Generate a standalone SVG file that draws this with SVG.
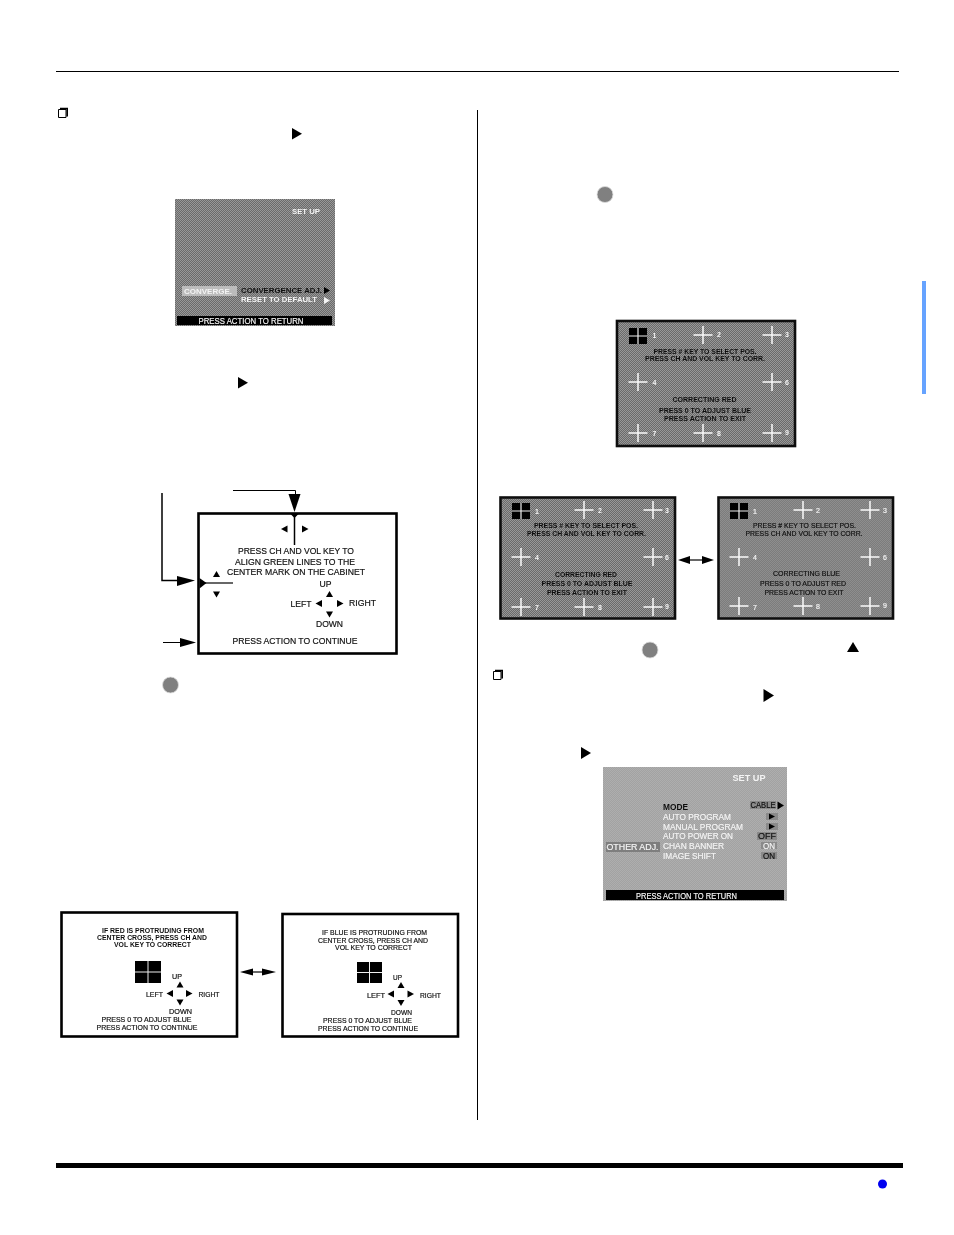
<svg xmlns="http://www.w3.org/2000/svg" xmlns:xlink="http://www.w3.org/1999/xlink" width="954" height="1235" viewBox="0 0 954 1235">
<defs>
<style>
text{font-family:"Liberation Sans",Arial,sans-serif;font-size:8.5px;fill:#111;stroke:#111;stroke-width:.18;text-anchor:middle}
.l{text-anchor:start}
.w{fill:#f4f4f4;stroke:#f4f4f4}
.b{font-weight:bold;stroke-width:0}
.s7{font-size:7px}
.frame{fill:#fff;stroke:#000;stroke-width:2.6}
.sframe{stroke:#111;stroke-width:2.6}
.rule{stroke:#000;fill:none}
.cr{stroke:#fafafa;stroke-width:1.5;fill:none}
.wrapper{filter:url(#soft)}
</style>
<filter id="soft" x="-5%" y="-5%" width="110%" height="110%"><feGaussianBlur stdDeviation="0.3"/></filter>
<pattern id="dA" width="2" height="2" patternUnits="userSpaceOnUse"><rect width="2" height="2" fill="#6a6a6a"/><rect width="1" height="1" fill="#989898"/><rect x="1" y="1" width="1" height="1" fill="#989898"/></pattern>
<pattern id="dB" width="2" height="2" patternUnits="userSpaceOnUse"><rect width="2" height="2" fill="#7c7c7c"/><rect width="1" height="1" fill="#8e8e8e"/><rect x="1" y="1" width="1" height="1" fill="#8e8e8e"/></pattern>
<pattern id="dC" width="2" height="2" patternUnits="userSpaceOnUse"><rect width="2" height="2" fill="#a2a2a2"/><rect width="1" height="1" fill="#aeaeae"/><rect x="1" y="1" width="1" height="1" fill="#aeaeae"/></pattern>
<path id="cross" class="cr" d="M-9.500 0H9.500M0-9V9"/>
<g id="block"><rect x="-9" y="-8" width="18" height="16" fill="#000"/><path d="M-9 0H9M0-8V8" stroke="#eee" stroke-width="1.200"/></g>
<path id="up" d="M-3.500 3H3.500L0-3Z"/>
<path id="dn" d="M-3.500-3H3.500L0 3Z"/>
<path id="lf" d="M3-3.500V3.500L-3.500 0Z"/>
<path id="rt" d="M-3-3.500V3.500L3.500 0Z"/>
</defs>
<rect width="954" height="1235" fill="#fff"/>

<g id="page-rules">
<path class="rule" d="M56 71.500H899"/>
<path class="rule" d="M477.500 110V1120"/>
<rect x="56" y="1163" width="847" height="5" fill="#000"/>
<rect x="922" y="281" width="4" height="113" fill="#66a3ff"/>
<circle cx="882.500" cy="1184" r="4.500" fill="#0000f0"/>
</g>

<g id="glyphs">
<path d="M58.500 109.500H66V117.500H58.500Z" fill="#fff" stroke="#000"/><path d="M60 108.500H67.200V116.500" fill="none" stroke="#000" stroke-width="1.600"/>
<path d="M493.500 671.500H501V679.500H493.500Z" fill="#fff" stroke="#000"/><path d="M495 670.500H502.200V678.500" fill="none" stroke="#000" stroke-width="1.600"/>
<path d="M292 128V139.500L302 133.700Z"/>
<path d="M238 377V388.500L248 382.700Z"/>
<path d="M763.500 689V702L774 695.500Z"/>
<path d="M581 747V759L591 753Z"/>
<path d="M847 652H859L853 642Z"/>
<circle cx="605" cy="194.500" r="8" fill="#808080" stroke="#ddd" stroke-width=".8"/>
<circle cx="170.500" cy="685" r="8" fill="#808080" stroke="#ddd" stroke-width=".8"/>
<circle cx="650" cy="650" r="8" fill="#808080" stroke="#ddd" stroke-width=".8"/>
</g>

<g id="screen-converge" class="wrapper">
<rect x="175" y="199" width="160" height="127" fill="url(#dA)"/>
<rect x="182" y="286" width="55" height="10" fill="#bcbcbc"/>
<rect x="177" y="316" width="155" height="9" fill="#000"/>
<text class="w b" x="306" y="213.500" textLength="28" lengthAdjust="spacingAndGlyphs" style="font-size:8px">SET UP</text>
<text class="w b" x="208" y="293.500" textLength="48" lengthAdjust="spacingAndGlyphs" style="font-size:8px">CONVERGE.</text>
<text class="b l" x="241" y="293" textLength="81" lengthAdjust="spacingAndGlyphs" style="font-size:8px">CONVERGENCE ADJ.</text>
<text class="w b l" x="241" y="302" textLength="76" lengthAdjust="spacingAndGlyphs" style="font-size:8px">RESET TO DEFAULT</text>
<path d="M324 297V304L330 300.500Z" fill="#f4f4f4"/>
<path d="M324 287V294L330 290.500Z"/>
<text class="w" x="251" y="323.500" textLength="105" lengthAdjust="spacingAndGlyphs">PRESS ACTION TO RETURN</text>
</g>

<g id="callout-center" class="wrapper">
<rect class="frame" x="198.500" y="513.500" width="198" height="140"/>
<text x="296" y="554" textLength="116" lengthAdjust="spacingAndGlyphs">PRESS CH AND VOL KEY TO</text>
<text x="295" y="565" textLength="120" lengthAdjust="spacingAndGlyphs">ALIGN GREEN LINES TO THE</text>
<text x="296" y="574.500" textLength="138" lengthAdjust="spacingAndGlyphs">CENTER MARK ON THE CABINET</text>
<text x="325.500" y="587" textLength="12" lengthAdjust="spacingAndGlyphs">UP</text>
<text x="301" y="607" textLength="21" lengthAdjust="spacingAndGlyphs">LEFT</text>
<text x="362.500" y="606" textLength="27" lengthAdjust="spacingAndGlyphs">RIGHT</text>
<text x="329.500" y="626.500" textLength="27" lengthAdjust="spacingAndGlyphs">DOWN</text>
<text x="295" y="644" textLength="125" lengthAdjust="spacingAndGlyphs">PRESS ACTION TO CONTINUE</text>
<use xlink:href="#lf" href="#lf" x="284.500" y="529"/>
<use xlink:href="#rt" href="#rt" x="305" y="529"/>
<use xlink:href="#up" href="#up" x="216.500" y="574"/>
<use xlink:href="#dn" href="#dn" x="216.500" y="594.500"/>
<use xlink:href="#up" href="#up" x="329.500" y="594"/>
<use xlink:href="#lf" href="#lf" x="319" y="603.500"/>
<use xlink:href="#rt" href="#rt" x="340" y="603.500"/>
<use xlink:href="#dn" href="#dn" x="329.500" y="614.500"/>
</g>

<g id="connectors">
<path class="rule" d="M233 490.500H295.500V496"/>
<path d="M288.500 494H300.500L294.500 512Z"/>
<path d="M290 513.500H299L294.500 518Z"/>
<path class="rule" d="M294.500 516V545" style="stroke-width:1.500"/>
<path class="rule" d="M162 493V580.500H178" style="stroke-width:1.500"/>
<path d="M177 576V586L195 580.500Z"/>
<path d="M199.500 578V588.500L206.500 583Z"/>
<path class="rule" d="M205 583H233" style="stroke-width:1.200"/>
<path class="rule" d="M163 642.500H181"/>
<path d="M180 638V647L196 642.500Z"/>
<path class="rule" d="M252 972H262" style="stroke-width:1.200"/>
<path d="M240 972L253 968.500V975.500Z"/>
<path d="M276 972L262 968.500V975.500Z"/>
<path class="rule" d="M689 560H703" style="stroke-width:1.200"/>
<path d="M678 560L690 556V564Z"/>
<path d="M714 560L702 556V564Z"/>
</g>

<g id="callout-red" class="wrapper">
<rect class="frame" x="61.500" y="912.500" width="175.500" height="124"/>
<text class="b s7" x="153" y="933" textLength="102" lengthAdjust="spacingAndGlyphs">IF RED IS PROTRUDING FROM</text>
<text class="b s7" x="152" y="940.300" textLength="110" lengthAdjust="spacingAndGlyphs">CENTER CROSS, PRESS CH AND</text>
<text class="b s7" x="152.500" y="947.300" textLength="77" lengthAdjust="spacingAndGlyphs">VOL KEY TO CORRECT</text>
<rect x="135" y="961" width="26" height="22" fill="#000"/><path d="M135 972H161M148 961V983" stroke="#eee" stroke-width="1"/>
<text class="s7" x="177" y="978.500" textLength="10" lengthAdjust="spacingAndGlyphs">UP</text>
<text class="s7" x="154.500" y="997" textLength="17" lengthAdjust="spacingAndGlyphs">LEFT</text>
<text class="s7" x="209" y="997" textLength="21" lengthAdjust="spacingAndGlyphs">RIGHT</text>
<text class="s7" x="180.500" y="1014" textLength="23" lengthAdjust="spacingAndGlyphs">DOWN</text>
<text class="s7" x="146.500" y="1021.500" textLength="90" lengthAdjust="spacingAndGlyphs">PRESS 0 TO ADJUST BLUE</text>
<text class="s7" x="147" y="1030" textLength="101" lengthAdjust="spacingAndGlyphs">PRESS ACTION TO CONTINUE</text>
<use xlink:href="#up" href="#up" x="180" y="984.500"/>
<use xlink:href="#lf" href="#lf" x="170" y="993.500"/>
<use xlink:href="#rt" href="#rt" x="189" y="993.500"/>
<use xlink:href="#dn" href="#dn" x="180" y="1002.500"/>
</g>

<g id="callout-blue" class="wrapper">
<rect class="frame" x="282.500" y="914" width="175.500" height="122.500"/>
<text class="s7" x="374.500" y="935" textLength="105" lengthAdjust="spacingAndGlyphs">IF BLUE IS PROTRUDING FROM</text>
<text class="s7" x="373" y="942.500" textLength="110" lengthAdjust="spacingAndGlyphs">CENTER CROSS, PRESS CH AND</text>
<text class="s7" x="373.500" y="950" textLength="77" lengthAdjust="spacingAndGlyphs">VOL KEY TO CORRECT</text>
<rect x="357" y="962" width="25" height="21" fill="#000"/><path d="M357 972.500H382M369.500 962V983" stroke="#eee" stroke-width="1"/>
<text class="s7" x="397.500" y="979.500" textLength="9" lengthAdjust="spacingAndGlyphs">UP</text>
<text class="s7" x="376" y="998" textLength="18" lengthAdjust="spacingAndGlyphs">LEFT</text>
<text class="s7" x="430.500" y="998" textLength="21" lengthAdjust="spacingAndGlyphs">RIGHT</text>
<text class="s7" x="401.500" y="1015" textLength="21" lengthAdjust="spacingAndGlyphs">DOWN</text>
<text class="s7" x="367.500" y="1023" textLength="89" lengthAdjust="spacingAndGlyphs">PRESS 0 TO ADJUST BLUE</text>
<text class="s7" x="368" y="1031" textLength="100" lengthAdjust="spacingAndGlyphs">PRESS ACTION TO CONTINUE</text>
<use xlink:href="#up" href="#up" x="401" y="985"/>
<use xlink:href="#lf" href="#lf" x="391" y="994"/>
<use xlink:href="#rt" href="#rt" x="410.500" y="994"/>
<use xlink:href="#dn" href="#dn" x="401" y="1003"/>
</g>

<g id="screen-red-top" class="wrapper">
<rect class="sframe" x="617" y="321" width="178" height="125" fill="url(#dA)"/>
<use xlink:href="#block" href="#block" x="638" y="336"/>
<use xlink:href="#cross" href="#cross" x="703" y="335"/>
<use xlink:href="#cross" href="#cross" x="772" y="335"/>
<use xlink:href="#cross" href="#cross" x="638" y="382"/>
<use xlink:href="#cross" href="#cross" x="772" y="382"/>
<use xlink:href="#cross" href="#cross" x="638" y="433"/>
<use xlink:href="#cross" href="#cross" x="703" y="433"/>
<use xlink:href="#cross" href="#cross" x="772" y="433"/>
<text class="w b s7" x="654.500" y="338">1</text>
<text class="w b s7" x="719" y="337">2</text>
<text class="w b s7" x="787" y="337">3</text>
<text class="w b s7" x="654.500" y="385">4</text>
<text class="w b s7" x="787" y="385">6</text>
<text class="w b s7" x="654.500" y="436">7</text>
<text class="w b s7" x="719" y="436">8</text>
<text class="w b s7" x="787" y="435">9</text>
<text class="b s7" x="705" y="353.500" textLength="103" lengthAdjust="spacingAndGlyphs">PRESS # KEY TO SELECT POS.</text>
<text class="b s7" x="705" y="361" textLength="120" lengthAdjust="spacingAndGlyphs">PRESS CH AND VOL KEY TO CORR.</text>
<text class="b s7" x="704.500" y="402" textLength="64" lengthAdjust="spacingAndGlyphs">CORRECTING RED</text>
<text class="b s7" x="705" y="412.500" textLength="92" lengthAdjust="spacingAndGlyphs">PRESS 0 TO ADJUST BLUE</text>
<text class="b s7" x="705" y="421" textLength="82" lengthAdjust="spacingAndGlyphs">PRESS ACTION TO EXIT</text>
</g>

<g id="screen-red" class="wrapper">
<rect class="sframe" x="500.500" y="497.500" width="174.500" height="121" fill="url(#dA)"/>
<use xlink:href="#block" href="#block" x="521" y="511"/>
<use xlink:href="#cross" href="#cross" x="584" y="510"/>
<use xlink:href="#cross" href="#cross" x="653" y="510"/>
<use xlink:href="#cross" href="#cross" x="521" y="557"/>
<use xlink:href="#cross" href="#cross" x="653" y="557"/>
<use xlink:href="#cross" href="#cross" x="521" y="607"/>
<use xlink:href="#cross" href="#cross" x="584" y="607"/>
<use xlink:href="#cross" href="#cross" x="653" y="607"/>
<text class="w b s7" x="537" y="514">1</text>
<text class="w b s7" x="600" y="512.500">2</text>
<text class="w b s7" x="667" y="512.500">3</text>
<text class="w b s7" x="537" y="560">4</text>
<text class="w b s7" x="667" y="560">6</text>
<text class="w b s7" x="537" y="610">7</text>
<text class="w b s7" x="600" y="610">8</text>
<text class="w b s7" x="667" y="608.500">9</text>
<text class="b s7" x="586" y="527.500" textLength="104" lengthAdjust="spacingAndGlyphs">PRESS # KEY TO SELECT POS.</text>
<text class="b s7" x="586.500" y="536" textLength="119" lengthAdjust="spacingAndGlyphs">PRESS CH AND VOL KEY TO CORR.</text>
<text class="b s7" x="586" y="576.500" textLength="62" lengthAdjust="spacingAndGlyphs">CORRECTING RED</text>
<text class="b s7" x="587" y="586" textLength="91" lengthAdjust="spacingAndGlyphs">PRESS 0 TO ADJUST BLUE</text>
<text class="b s7" x="587" y="595" textLength="80" lengthAdjust="spacingAndGlyphs">PRESS ACTION TO EXIT</text>
</g>

<g id="screen-blue" class="wrapper">
<rect class="sframe" x="718.500" y="497.500" width="174.500" height="121" fill="url(#dB)"/>
<use xlink:href="#block" href="#block" x="739" y="511"/>
<use xlink:href="#cross" href="#cross" x="803" y="510"/>
<use xlink:href="#cross" href="#cross" x="870" y="510"/>
<use xlink:href="#cross" href="#cross" x="739" y="557"/>
<use xlink:href="#cross" href="#cross" x="870" y="557"/>
<use xlink:href="#cross" href="#cross" x="739" y="606"/>
<use xlink:href="#cross" href="#cross" x="803" y="606"/>
<use xlink:href="#cross" href="#cross" x="870" y="606"/>
<text class="w s7" x="755" y="514">1</text>
<text class="w s7" x="818" y="512.500">2</text>
<text class="w s7" x="885" y="512.500">3</text>
<text class="w s7" x="755" y="560">4</text>
<text class="w s7" x="885" y="560">6</text>
<text class="w s7" x="755" y="609.500">7</text>
<text class="w s7" x="818" y="608.500">8</text>
<text class="w s7" x="885" y="607.500">9</text>
<text class="s7" x="804.500" y="527.500" textLength="103" lengthAdjust="spacingAndGlyphs">PRESS # KEY TO SELECT POS.</text>
<text class="s7" x="804" y="536" textLength="117" lengthAdjust="spacingAndGlyphs">PRESS CH AND VOL KEY TO CORR.</text>
<text class="s7" x="806.500" y="575.500" textLength="67" lengthAdjust="spacingAndGlyphs">CORRECTING BLUE</text>
<text class="s7" x="803" y="586" textLength="86" lengthAdjust="spacingAndGlyphs">PRESS 0 TO ADJUST RED</text>
<text class="s7" x="804" y="594.500" textLength="79" lengthAdjust="spacingAndGlyphs">PRESS ACTION TO EXIT</text>
</g>

<g id="screen-other" class="wrapper">
<rect x="603" y="767" width="184" height="134" fill="url(#dC)"/>
<rect x="606" y="842" width="54" height="10" fill="#7e7e7e"/>
<rect x="750" y="801" width="26" height="8" fill="#8a8a8a"/>
<rect x="766" y="813" width="12" height="7" fill="#8a8a8a"/>
<rect x="766" y="823" width="12" height="7" fill="#8a8a8a"/>
<rect x="757" y="832" width="20" height="8" fill="#8a8a8a"/>
<rect x="761" y="842" width="16" height="7" fill="#8a8a8a"/>
<rect x="761" y="852" width="16" height="7" fill="#8a8a8a"/>
<rect x="606" y="890" width="178" height="10" fill="#000"/>
<text class="w b" x="749" y="781" textLength="33" lengthAdjust="spacingAndGlyphs">SET UP</text>
<text class="b l" x="663" y="809.500" textLength="25" lengthAdjust="spacingAndGlyphs">MODE</text>
<text class="w l" x="663" y="819.500" textLength="68" lengthAdjust="spacingAndGlyphs">AUTO PROGRAM</text>
<text class="w l" x="663" y="829.500" textLength="80" lengthAdjust="spacingAndGlyphs">MANUAL PROGRAM</text>
<text class="w l" x="663" y="839" textLength="70" lengthAdjust="spacingAndGlyphs">AUTO POWER ON</text>
<text class="w l" x="663" y="849" textLength="61" lengthAdjust="spacingAndGlyphs">CHAN BANNER</text>
<text class="w l" x="663" y="858.500" textLength="53" lengthAdjust="spacingAndGlyphs">IMAGE SHIFT</text>
<text class="w" x="632.500" y="850" textLength="52" lengthAdjust="spacingAndGlyphs">OTHER ADJ.</text>
<text x="763" y="808" textLength="25" lengthAdjust="spacingAndGlyphs">CABLE</text>
<path d="M777.500 801.500V809.500L784 805.500Z"/>
<path d="M769 813.500V819.500L775 816.500Z"/>
<path d="M769 823.500V829.500L775 826.500Z"/>
<text x="767" y="839" textLength="18" lengthAdjust="spacingAndGlyphs">OFF</text>
<text class="w" x="769" y="849" textLength="12" lengthAdjust="spacingAndGlyphs">ON</text>
<text x="769" y="858.500" textLength="12" lengthAdjust="spacingAndGlyphs">ON</text>
<text class="w" x="686.500" y="898.500" textLength="101" lengthAdjust="spacingAndGlyphs">PRESS ACTION TO RETURN</text>
</g>
</svg>
